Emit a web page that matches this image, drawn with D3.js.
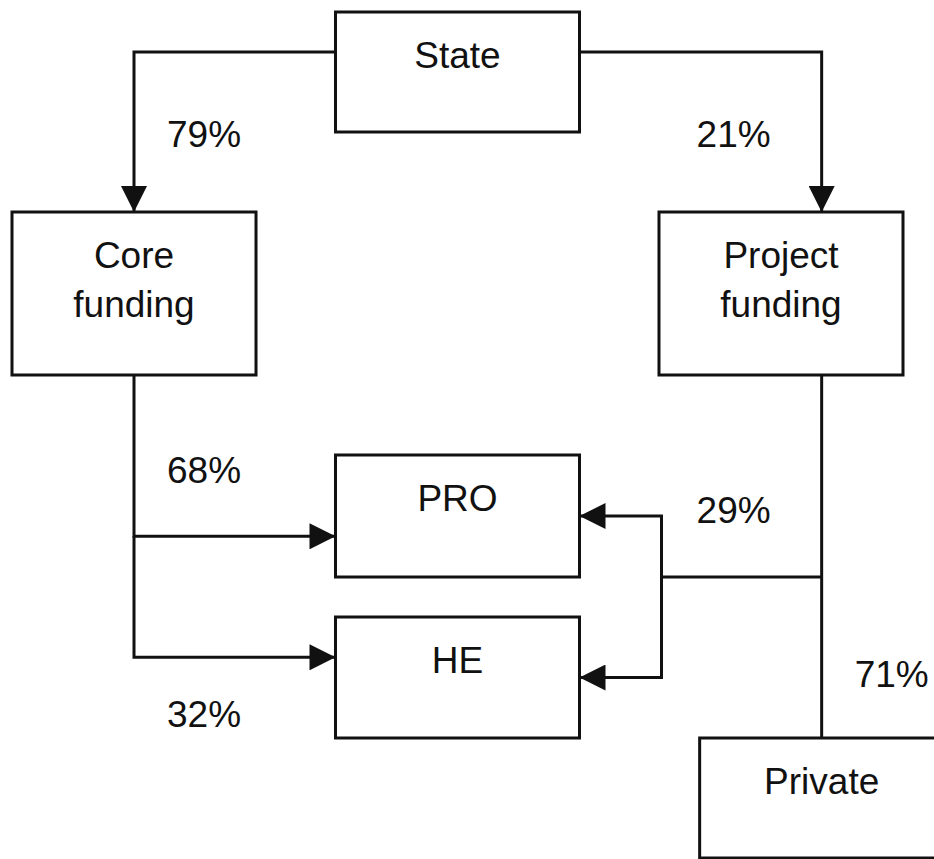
<!DOCTYPE html>
<html>
<head>
<meta charset="utf-8">
<script src="https://cdn.jsdelivr.net/npm/d3@7"></script>
<style>
  body { margin: 0; background: #fff; }
  text { font-family: "Liberation Sans", Arial, sans-serif; font-size: 37px; fill: #111; }
  .box { fill: #fff; stroke: #111; stroke-width: 3; }
  .link { fill: none; stroke: #111; stroke-width: 3; }
</style>
</head>
<body>
<div id="chart"></div>
<script>
// ---------------- data ----------------
const nodeNames = ["State", "Core funding", "Project funding", "PRO", "HE", "Private"];
const nodeCols = ["mid", "left", "right", "mid", "mid", "right"];
const nodeRows = ["top", "upper", "upper", "middle", "lower", "bottom"];

const linkSources = ["State", "State", "Core funding", "Core funding", "Project funding", "Project funding"];
const linkTargets = ["Core funding", "Project funding", "PRO", "HE", "PRO + HE", "Private"];
const linkShares = [79, 21, 68, 32, 29, 71];

// ---------------- layout ----------------
const width = 934, height = 859;

const svg = d3.select("#chart").append("svg")
  .attr("width", width)
  .attr("height", height);

// columns of boxes
const xCol = d3.scaleBand().domain(["left", "mid", "right"]).range([12, 903]).paddingInner(0.2457);
const boxW = xCol.bandwidth();
// rows of boxes (top edge and height)
const yRow = d3.scaleOrdinal().domain(["top", "upper", "middle", "lower", "bottom"]).range([12, 212, 455, 617, 738]);
const hRow = d3.scaleOrdinal().domain(["top", "upper", "middle", "lower", "bottom"]).range([120, 163, 122, 121, 120]);

// vertical channels the flows run along
const leftCh = xCol("left") + boxW / 2;
const rightCh = xCol("right") + boxW * 2 / 3;

const nodes = nodeNames.map((name, i) => {
  let x = xCol(nodeCols[i]);
  if (name === "Private") x = rightCh - boxW / 2; // hangs under the right channel
  return { name, x, y: yRow(nodeRows[i]), w: boxW, h: hRow(nodeRows[i]) };
});
const node = (name) => nodes.find((n) => n.name === name);

// arrow marker
svg.append("defs").append("marker")
  .attr("id", "arrow")
  .attr("markerUnits", "userSpaceOnUse")
  .attr("viewBox", "0 0 26 26")
  .attr("markerWidth", 26)
  .attr("markerHeight", 26)
  .attr("refX", 26)
  .attr("refY", 13)
  .attr("orient", "auto")
  .append("path")
  .attr("d", "M0,0L26,13L0,26Z")
  .attr("fill", "#111");

//================ ROUTES ================
const State = node("State"), Core = node("Core funding"), Proj = node("Project funding"),
  PRO = node("PRO"), HE = node("HE"), Priv = node("Private");

const stateY = State.y + State.h / 3;
const coreSplitY = PRO.y + PRO.h * 2 / 3;
const projSplitY = PRO.y + PRO.h;
const projBusX = PRO.x + PRO.w + 82;

// each link: list of polylines, with/without arrow
const routes = {
  "Core funding": [{ pts: [[State.x, stateY], [leftCh, stateY], [leftCh, Core.y]], arrow: true }],
  "Project funding": [{ pts: [[State.x + State.w, stateY], [rightCh, stateY], [rightCh, Proj.y]], arrow: true }],
  "PRO": [{ pts: [[leftCh, Core.y + Core.h], [leftCh, coreSplitY], [PRO.x, coreSplitY]], arrow: true }],
  "HE": [{ pts: [[leftCh, coreSplitY], [leftCh, HE.y + HE.h / 3], [HE.x, HE.y + HE.h / 3]], arrow: true }],
  "PRO + HE": [
    { pts: [[rightCh, projSplitY], [projBusX, projSplitY]], arrow: false },
    { pts: [[projBusX, projSplitY], [projBusX, PRO.y + PRO.h / 2], [PRO.x + PRO.w, PRO.y + PRO.h / 2]], arrow: true },
    { pts: [[projBusX, projSplitY], [projBusX, HE.y + HE.h / 2], [HE.x + HE.w, HE.y + HE.h / 2]], arrow: true }
  ],
  "Private": [{ pts: [[rightCh, Proj.y + Proj.h], [rightCh, Priv.y]], arrow: false }]
};

// label anchor per link (channel side, baseline)
const labelPos = {
  "Core funding": { x: leftCh + 33, y: 147, anchor: "start" },
  "Project funding": { x: rightCh - 51, y: 147, anchor: "end" },
  "PRO": { x: leftCh + 33, y: 483, anchor: "start" },
  "HE": { x: leftCh + 33, y: 727, anchor: "start" },
  "PRO + HE": { x: rightCh - 51, y: 523, anchor: "end" },
  "Private": { x: rightCh + 33, y: 687, anchor: "start" }
};

const line = d3.line();

const links = linkTargets.map((t, i) => ({ source: linkSources[i], target: t, share: linkShares[i] }));

links.forEach((l) => {
  routes[l.target].forEach((seg) => {
    svg.append("path")
      .attr("class", "link")
      .attr("d", line(seg.pts))
      .attr("marker-end", seg.arrow ? "url(#arrow)" : null);
  });
  const lp = labelPos[l.target];
  svg.append("text")
    .attr("x", lp.x)
    .attr("y", lp.y)
    .attr("text-anchor", lp.anchor)
    .text(l.share + "%");
});

//================ BOXES ================
const g = svg.selectAll(".node").data(nodes).enter().append("g").attr("class", "node");

g.append("rect")
  .attr("class", "box")
  .attr("x", (d) => d.x)
  .attr("y", (d) => d.y)
  .attr("width", (d) => d.w)
  .attr("height", (d) => d.h);

g.each(function (d) {
  const words = d.name.split(" ");
  const t = d3.select(this).append("text")
    .attr("text-anchor", "middle");
  words.forEach((w, k) => {
    t.append("tspan")
      .attr("x", d.x + d.w / 2)
      .attr("y", d.y + 56 + k * 49)
      .text(w);
  });
});
</script>
</body>
</html>
